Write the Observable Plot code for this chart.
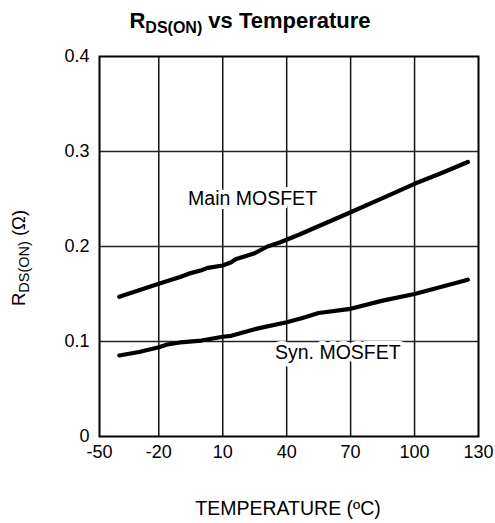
<!DOCTYPE html>
<html>
<head>
<meta charset="utf-8">
<script src="https://cdn.jsdelivr.net/npm/d3@7"></script>
<script src="https://cdn.jsdelivr.net/npm/@observablehq/plot@0.6"></script>
<style>
  html, body { margin: 0; padding: 0; background: #fff; }
  svg { display: block; }
</style>
</head>
<body>
<div id="chart"></div>
<script>
// Data
const mainTemp = [-40, -30, -20, -10, -5, 0, 3, 10, 14, 16, 25, 31, 37, 46, 53, 70, 85, 100, 113, 125];
const mainR    = [0.147, 0.154, 0.1607, 0.168, 0.172, 0.175, 0.1775, 0.180, 0.1835, 0.1865, 0.193, 0.200, 0.2045, 0.2126, 0.2195, 0.236, 0.251, 0.266, 0.2776, 0.289];
const synTemp  = [-40, -30, -20, -16, -10, 0, 10, 14, 25, 40, 47, 55, 70, 85, 100, 125];
const synR     = [0.0853, 0.089, 0.094, 0.0968, 0.099, 0.101, 0.105, 0.106, 0.113, 0.1203, 0.1245, 0.130, 0.1344, 0.143, 0.150, 0.165];
const xTicks = [-50, -20, 10, 40, 70, 100, 130];
const yTicks = [0, 0.1, 0.2, 0.3, 0.4];
const seriesNames = ["Main MOSFET", "Syn. MOSFET"];
const labelTemp = [24, 64];
const labelR = [0.25, 0.088];

const rows = [
  ...mainTemp.map((t, i) => ({series: seriesNames[0], temp: t, r: mainR[i]})),
  ...synTemp.map((t, i) => ({series: seriesNames[1], temp: t, r: synR[i]}))
];
const labels = seriesNames.map((s, i) => ({text: s, temp: labelTemp[i], r: labelR[i]}));

const W = 495, H = 523;
const plot = Plot.plot({
  width: W,
  height: H,
  marginTop: 56,
  marginBottom: 87,
  marginLeft: 99,
  marginRight: 17,
  style: {fontFamily: "'Liberation Sans', Arial, sans-serif", fontSize: "18px", color: "#000", background: "#fff"},
  x: {type: "linear", domain: [-50, -20, 130], range: [99, 158.3, 478]},
  y: {domain: [0, 0.4]},
  marks: [
    Plot.gridX(xTicks.slice(1, -1), {stroke: "#111", strokeOpacity: 1, strokeWidth: 1.5}),
    Plot.gridY(yTicks.slice(1, -1), {stroke: "#222", strokeOpacity: 1, strokeWidth: 1.5}),
    Plot.text(labels, {x: "temp", y: "r", text: "text", fontSize: 19.5, fill: "#000", stroke: "white", strokeWidth: 8, textAnchor: "middle"}),
    Plot.line(rows, {x: "temp", y: "r", z: "series", stroke: "#000", strokeWidth: 4.2, strokeLinecap: "round", strokeLinejoin: "round"}),
    Plot.frame({stroke: "#000", strokeWidth: 2}),
    Plot.axisY({ticks: yTicks, tickSize: 0, tickPadding: 10, label: null, tickFormat: d => d === 0 ? "0" : d.toFixed(1)}),
    Plot.axisX({ticks: xTicks, tickSize: 0, tickPadding: 9, label: null, tickFormat: d => String(d)})
  ]
});

document.getElementById("chart").appendChild(plot);

const svg = d3.select(plot);
// Title
const title = svg.append("text")
  .attr("x", 250).attr("y", 28)
  .attr("text-anchor", "middle")
  .attr("font-family", "'Liberation Sans', Arial, sans-serif")
  .attr("font-weight", "bold")
  .attr("font-size", 22)
  .attr("fill", "#000");
title.append("tspan").text("R");
title.append("tspan").attr("font-size", 16).attr("dy", 5).text("DS(ON)");
title.append("tspan").attr("dy", -5).text(" vs Temperature");

// Y axis label
const ylab = svg.append("text")
  .attr("transform", "translate(25,258) rotate(-90)")
  .attr("text-anchor", "middle")
  .attr("font-family", "'Liberation Sans', Arial, sans-serif")
  .attr("font-size", 18.5)
  .attr("fill", "#000");
ylab.append("tspan").text("R");
ylab.append("tspan").attr("font-size", 14.5).attr("dy", 4).text("DS(ON)");
ylab.append("tspan").attr("dy", -4).text(" (\u03A9)");

// X axis label
svg.append("text")
  .attr("x", 288).attr("y", 515)
  .attr("text-anchor", "middle")
  .attr("font-family", "'Liberation Sans', Arial, sans-serif")
  .attr("font-size", 19.5)
  .attr("fill", "#000")
  .text("TEMPERATURE (\u00BAC)");
</script>
</body>
</html>
